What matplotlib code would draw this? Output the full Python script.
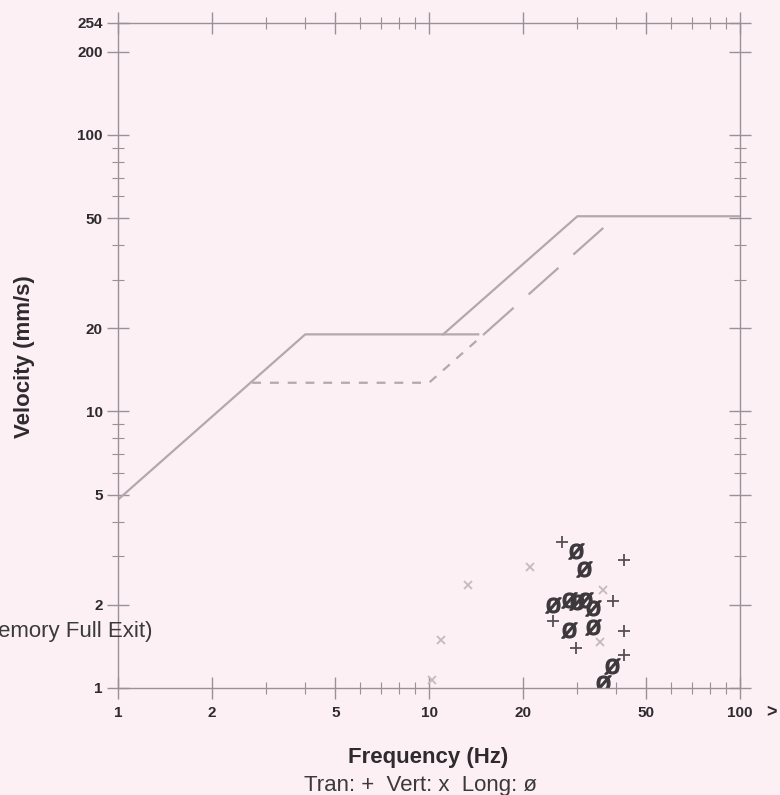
import matplotlib
matplotlib.use("Agg")
import matplotlib.pyplot as plt
from matplotlib.ticker import FixedLocator, LogLocator, NullFormatter

plt.rcParams['font.family'] = ['Liberation Sans', 'DejaVu Sans']

# criterion curves (frequency Hz, velocity mm/s)
solid_a_f = [1, 4, 14.4]
solid_a_v = [4.8, 19, 19]
solid_b_f = [11.1, 30, 100]
solid_b_v = [19, 50.8, 50.8]
dash_short_f = [2.7, 10, 15]
dash_short_v = [12.7, 12.7, 19]
dash_long_f = [15, 37.6]
dash_long_v = [19, 47.7]

# measured peaks
tran_f = [26.7, 42.4, 39.1, 25.1, 42.4, 29.7, 42.4]
tran_v = [3.37, 2.90, 2.07, 1.75, 1.61, 1.39, 1.32]
vert_f = [21.1, 13.3, 10.9, 10.2, 36.4, 35.5]
vert_v = [2.75, 2.35, 1.49, 1.07, 2.26, 1.47]
long_f = [29.7, 31.6, 25.1, 28.1, 30.0, 31.7, 33.8, 28.1, 33.6, 38.9, 36.2]
long_v = [3.13, 2.70, 2.00, 2.08, 2.05, 2.08, 1.94, 1.62, 1.66, 1.20, 1.04]

x_ticks = [1, 2, 5, 10, 20, 50, 100]
y_ticks = [1, 2, 5, 10, 20, 50, 100, 200, 254]

bg = '#fcf0f5'
line_col = '#b6a6ae'
spine_col = '#9a9098'
text_col = '#2e2a2e'

fig = plt.figure(figsize=(7.8, 7.95), dpi=100, facecolor=bg)
ax = fig.add_axes([0.1513, 0.1346, 0.7974, 0.8365])
ax.set_facecolor(bg)
ax.set_xscale('log')
ax.set_yscale('log')
ax.set_xlim(1, 100)
ax.set_ylim(1, 254)

ax.plot(solid_a_f, solid_a_v, color=line_col, lw=1.6)
ax.plot(solid_b_f, solid_b_v, color=line_col, lw=1.6)
ax.plot(dash_short_f, dash_short_v, color=line_col, lw=1.6, dashes=(4, 4))
ax.plot(dash_long_f, dash_long_v, color=line_col, lw=1.6, dashes=(18, 9))

ax.plot(vert_f, vert_v, 'x', color='#c8b8c0', ms=6, mew=1.3, ls='none')
ax.plot(tran_f, tran_v, '+', color='#555055', ms=8, mew=1.3, ls='none')
ax.plot(long_f, long_v, marker='$\\mathregular{ø}$', color='#3c383c', ms=11, ls='none')

ax.xaxis.set_major_locator(FixedLocator(x_ticks))
ax.xaxis.set_minor_locator(LogLocator(base=10, subs=[3, 4, 6, 7, 8, 9]))
ax.xaxis.set_minor_formatter(NullFormatter())
ax.set_xticklabels([str(t) for t in x_ticks])
ax.yaxis.set_major_locator(FixedLocator(y_ticks))
ax.yaxis.set_minor_locator(LogLocator(base=10, subs=[3, 4, 6, 7, 8, 9]))
ax.yaxis.set_minor_formatter(NullFormatter())
ax.set_yticklabels([str(t) for t in y_ticks])

for s in ax.spines.values():
    s.set_color(spine_col)
    s.set_linewidth(1.0)

ax.tick_params(which='major', direction='inout', length=16, width=1, color=spine_col,
               top=True, right=True, labelsize=11)
ax.tick_params(which='minor', direction='inout', length=9, width=0.8, color=spine_col,
               top=True, right=True)
ax.tick_params(axis='x', which='major', pad=5)
ax.tick_params(axis='y', which='major', pad=3)
for lbl in ax.get_xticklabels() + ax.get_yticklabels():
    lbl.set_fontweight('bold')
    lbl.set_color(text_col)

fig.text(0.032, 1 - 357 / 795, 'Velocity (mm/s)', rotation=90, ha='center', va='center',
         fontsize=16, fontweight='bold', color=text_col)
fig.text(428 / 780, 1 - 757 / 795, 'Frequency (Hz)', ha='center', va='center',
         fontsize=16, fontweight='bold', color=text_col)
fig.text(421 / 780, 1 - 785 / 795, 'Tran: +  Vert: x  Long: ø', ha='center', va='center',
         fontsize=16, color='#3a3a3a')
# the scan cuts this note off at the left edge
fig.text(153 / 780, 1 - 632 / 795, 'emory Full Exit)', ha='right', va='center',
         fontsize=16, color='#3a3a3a')
fig.text(766 / 780, 1 - 713 / 795, '>', ha='left', va='center', fontsize=13,
         fontweight='bold', color=text_col)

fig.savefig('out.png', dpi=100, facecolor=bg)
